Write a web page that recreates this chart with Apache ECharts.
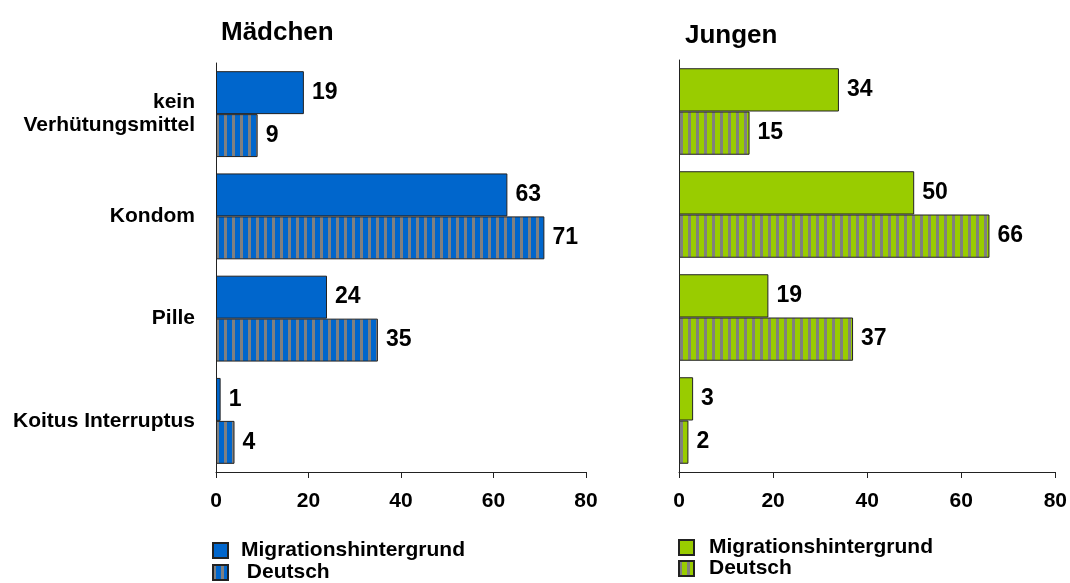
<!DOCTYPE html>
<html>
<head>
<meta charset="utf-8">
<title>Verhütung</title>
<style>
    html,body{margin:0;padding:0;background:#fff;}
    #chart{width:1070px;height:583px;}
</style>
</head>
<body>
<div id="chart"></div>
<script src="https://cdn.jsdelivr.net/npm/echarts@6/dist/echarts.min.js"></script>
<script>
    // Daten
    var categories = ['kein\nVerhütungsmittel', 'Kondom', 'Pille', 'Koitus Interruptus'];
    var maedchenMigration = [19, 63, 24, 1];
    var maedchenDeutsch = [9, 71, 35, 4];
    var jungenMigration = [34, 50, 19, 3];
    var jungenDeutsch = [15, 66, 37, 2];
    var xTicks = [0, 20, 40, 60, 80];

    var blue = '#0066CC', green = '#99CC00', grau = '#808080';
    var font = 'Arial, "Liberation Sans", sans-serif';

    // Streifenmuster (senkrecht)
    function stripes(color) {
        var c = document.createElement('canvas');
        c.width = 8; c.height = 8;
        var ctx = c.getContext('2d');
        ctx.fillStyle = color; ctx.fillRect(0, 0, 8, 8);
        ctx.fillStyle = grau; ctx.fillRect(0, 0, 3, 8);
        return {image: c, repeat: 'repeat'};
    }

    var chart = echarts.init(document.getElementById('chart'));

    function xAxis(idx) {
        return {
            type: 'value', gridIndex: idx, min: xTicks[0], max: xTicks[xTicks.length - 1], interval: 20,
            splitLine: {show: false},
            axisLine: {show: true, lineStyle: {color: '#222', width: 1}},
            axisTick: {show: true, length: 6, lineStyle: {color: '#222'}},
            axisLabel: {margin: 19, color: '#000', fontSize: 21, fontWeight: 'bold', fontFamily: font}
        };
    }
    function yAxis(idx, showLabel) {
        return {
            type: 'category', gridIndex: idx, data: categories, inverse: true,
            axisLine: {show: true, lineStyle: {color: '#222', width: 1}},
            axisTick: {show: false},
            axisLabel: {show: showLabel, margin: 21, color: '#000', fontSize: 21, fontWeight: 'bold',
                fontFamily: font, lineHeight: 23, align: 'right', padding: [0, 0, 10, 0]}
        };
    }
    function bar(name, idx, data, color) {
        return {
            name: name, type: 'bar', xAxisIndex: idx, yAxisIndex: idx, data: data,
            barGap: '0%', barCategoryGap: '16%',
            itemStyle: {color: color, borderColor: '#222', borderWidth: 1},
            label: {show: true, position: 'right', distance: 8, color: '#000',
                fontSize: 23, fontWeight: 'bold', fontFamily: font},
            emphasis: {disabled: true}
        };
    }
    // je Eintrag eine eigene Legende (sonst bricht ECharts unten in Spalten um)
    function legend(name, left, top, pad) {
        return {
            left: left, top: top, icon: 'rect', itemWidth: 15, itemHeight: 15, padding: 0,
            selectedMode: false, data: [name],
            formatter: function (n) { return n.replace(' (J)', ''); },
            textStyle: {color: '#000', fontSize: 21, fontWeight: 'bold', fontFamily: font, padding: [0, 0, 0, pad]}
        };
    }

    chart.setOption({
        animation: false,
        title: [
            {text: 'Mädchen', left: 216, top: 15, textStyle: {fontSize: 26, fontWeight: 'bold', color: '#000', fontFamily: font}},
            {text: 'Jungen', left: 680, top: 18, textStyle: {fontSize: 26, fontWeight: 'bold', color: '#000', fontFamily: font}}
        ],
        grid: [
            {left: 216, top: 63, width: 370, height: 409},
            {left: 679, top: 60, width: 378, height: 412}
        ],
        xAxis: [xAxis(0), xAxis(1)],
        yAxis: [yAxis(0, true), yAxis(1, false)],
        legend: [
            legend('Migrationshintergrund', 212, 540, 8),
            legend(' Deutsch', 212, 562, 8),
            legend('Migrationshintergrund (J)', 678, 537, 10),
            legend('Deutsch (J)', 678, 558, 10)
        ],
        series: [
            bar('Migrationshintergrund', 0, maedchenMigration, blue),
            bar(' Deutsch', 0, maedchenDeutsch, stripes(blue)),
            bar('Migrationshintergrund (J)', 1, jungenMigration, green),
            bar('Deutsch (J)', 1, jungenDeutsch, stripes(green))
        ]
    });
</script>
</body>
</html>
